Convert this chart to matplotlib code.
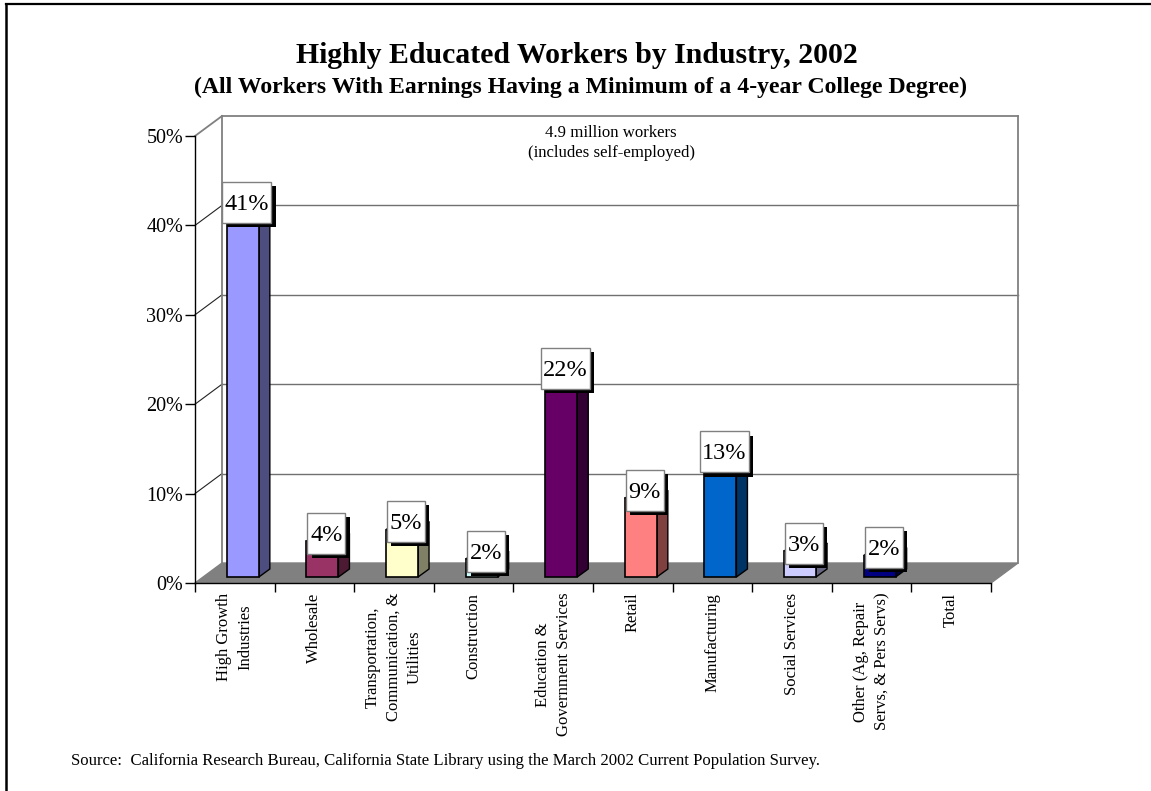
import matplotlib
matplotlib.use("Agg")
import matplotlib.pyplot as plt
from matplotlib.patches import Polygon, Rectangle
from matplotlib.lines import Line2D
from matplotlib.patheffects import withSimplePatchShadow
from matplotlib.colors import to_rgb

plt.rcParams['font.family'] = ['Liberation Serif', 'DejaVu Serif']

categories = ["High Growth\nIndustries", "Wholesale", "Transportation,\nCommunication, &\nUtilities",
              "Construction", "Education &\nGovernment Services", "Retail", "Manufacturing",
              "Social Services", "Other (Ag, Repair\nServs, & Pers Servs)", "Total"]
values = [41.0, 4.0, 5.3, 2.0, 22.4, 8.8, 13.1, 2.9, 2.4]
bar_colors = ["#9999FF", "#993366", "#FFFFCC", "#CCFFFF", "#660066", "#FF8080", "#0066CC", "#CCCCFF", "#000080"]
y_ticks = [0, 10, 20, 30, 40, 50]

W, H = 1151, 791
fig = plt.figure(figsize=(W / 100, H / 100), dpi=100, facecolor="white")
L, R, T, B = 195, 991, 136, 583
ax = fig.add_axes([L / W, 1 - B / H, (R - L) / W, (B - T) / H])
ax.set_xlim(0, 10)
ax.set_ylim(0, 50)
ax.patch.set_visible(False)
for s in ("top", "right"):
    ax.spines[s].set_visible(False)
for s in ("left", "bottom"):
    ax.spines[s].set_linewidth(1.0)

ux = (R - L) / 10      # pixels per category
uy = (B - T) / 50      # pixels per percent
dx, dy = 27 / ux, 20 / uy          # wall depth
bdx, bdy = 11 / ux, 8 / uy         # bar depth
bar_w = 32 / ux
bar_x0 = 0.40                      # bar left edge inside its category
lift = 6 / uy                      # bars stand inside the floor depth

GRAY = "#808080"
# floor
ax.add_patch(Polygon([(0, 0), (10, 0), (10 + dx, dy), (dx, dy)], closed=True,
                     fc=GRAY, ec=GRAY, lw=1, clip_on=False, zorder=1))
# walls and gridlines
for t in y_ticks[1:]:
    ax.plot([dx, 10 + dx], [t + dy, t + dy], color="#707070" if t < 50 else GRAY, lw=1.0 if t < 50 else 1.3,
            clip_on=False, zorder=1)
    ax.plot([0, dx], [t, t + dy], color="#222222" if t < 50 else GRAY, lw=0.8 if t < 50 else 1.3,
            clip_on=False, zorder=1)
ax.plot([dx, dx], [dy, 50 + dy], color=GRAY, lw=1.3, clip_on=False, zorder=1)
ax.plot([10 + dx, 10 + dx], [dy, 50 + dy], color=GRAY, lw=1.3, clip_on=False, zorder=1)

# bars
for i, (v, c) in enumerate(zip(values, bar_colors)):
    x0 = i + bar_x0
    x1 = x0 + bar_w
    base = lift
    top = v + lift
    side = tuple(0.5 * a for a in to_rgb(c))
    ax.add_patch(Polygon([(x1, base), (x1 + bdx, base + bdy), (x1 + bdx, top + bdy), (x1, top)],
                         closed=True, fc=side, ec="black", lw=1, clip_on=False, zorder=3))
    ax.add_patch(Polygon([(x0, top), (x1, top), (x1 + bdx, top + bdy), (x0 + bdx, top + bdy)],
                         closed=True, fc=c, ec="black", lw=1, clip_on=False, zorder=3))
    ax.add_patch(Rectangle((x0, base), bar_w, v, fc=c, ec="black", lw=1.2,
                           clip_on=False, zorder=3))
    text = f"{v:.0f}%"
    cx = x0 + bar_w / 2 + 4 / ux
    cy = top + 8 / uy
    bw = (11 * len(text) + 16) / ux
    bh = 41 / uy
    box = Rectangle((cx - bw / 2, cy - bh / 2), bw, bh, fc="white", ec=GRAY, lw=1.0,
                    clip_on=False, zorder=4)
    box.set_path_effects([withSimplePatchShadow(offset=(3.0, -3.0), shadow_rgbFace="black", alpha=1.0)])
    ax.add_patch(box)
    ax.text(cx, cy - 2 / uy, text, ha="center", va="center", fontsize=17.5, color="black", zorder=5, clip_on=False)

# axes ticks
ax.set_yticks(y_ticks)
ax.set_yticklabels([f"{t}%" for t in y_ticks], fontsize=14.5)
ax.tick_params(axis="y", length=7, width=1, pad=1.5, color="black")
ax.set_xticks(range(11))
ax.set_xticklabels([])
ax.tick_params(axis="x", which="major", length=6.5, width=1)
ax.set_xticks([i + 0.5 for i in range(10)], minor=True)
ax.set_xticklabels(categories, minor=True, rotation=90, fontsize=12, va="top", ha="center",
                   multialignment="center", linespacing=1.42)
ax.tick_params(axis="x", which="minor", length=0, pad=7)

def px(x, y):
    return x / W, 1 - y / H

# titles and notes
fig.text(*px(577, 63), "Highly Educated Workers by Industry, 2002", fontsize=21.4, fontweight="bold",
         ha="center", va="baseline")
fig.text(*px(580, 93), "(All Workers With Earnings Having a Minimum of a 4-year College Degree)",
         fontsize=17.1, fontweight="bold", ha="center", va="baseline")
fig.text(*px(611, 143), "4.9 million workers\n(includes self-employed)", fontsize=12.1, ha="center",
         va="center", linespacing=1.3)
fig.text(*px(71, 761), "Source:  California Research Bureau, California State Library using the March 2002 Current Population Survey.",
         fontsize=12.1, ha="left", va="center")

# page frame (top and left rules only)
fig.add_artist(Line2D([5.5 / W, 5.5 / W], [0, 1 - 4 / H], transform=fig.transFigure, color="black", lw=1.8))
fig.add_artist(Line2D([5.5 / W, 1], [1 - 4 / H, 1 - 4 / H], transform=fig.transFigure, color="black", lw=1.6))

fig.savefig("out.png", dpi=100)
